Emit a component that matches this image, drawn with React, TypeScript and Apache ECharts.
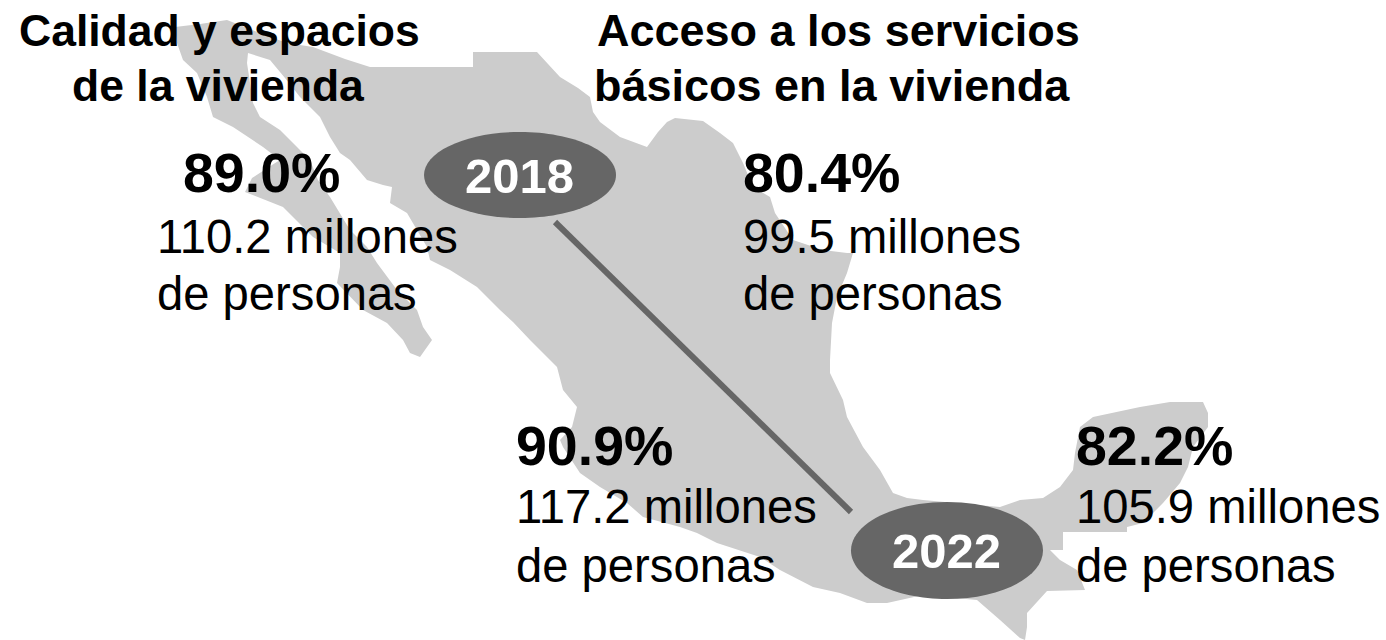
import React, { useEffect, useRef } from "react";
import * as echarts from "echarts";

const years = ["2018", "2022"];
const headings = [
  ["Calidad y espacios", "de la vivienda"],
  ["Acceso a los servicios", "básicos en la vivienda"],
];
const percentages = ["89.0%", "80.4%", "90.9%", "82.2%"];
const millions = ["110.2", "99.5", "117.2", "105.9"];
const unitLine1 = "millones";
const unitLine2 = "de personas";

// Outline of Mexico used as the backdrop illustration
const mapOutline: number[][] = [
  [175, 27], [200, 24], [227, 20], [262, 34], [287, 43], [313, 47], [345, 59], [370, 67], [473, 67], [473, 52], [537, 52],
  [548, 64], [560, 77], [578, 88], [590, 97], [593, 112], [600, 122], [620, 137], [647, 147], [658, 132], [667, 122],
  [675, 118], [703, 121], [720, 133], [733, 143], [743, 163], [753, 187], [770, 197], [775, 213], [793, 240], [823, 250],
  [847, 253], [853, 253], [847, 273], [837, 297], [832, 323], [830, 360], [830, 373], [843, 400], [847, 417], [863, 447],
  [880, 470], [893, 493], [907, 498], [923, 500], [1000, 507], [1020, 500], [1043, 498], [1060, 487], [1073, 470],
  [1075, 453], [1080, 427], [1093, 417], [1140, 407], [1170, 402], [1203, 402], [1208, 413], [1208, 427], [1193, 447],
  [1188, 467], [1180, 483], [1163, 503], [1143, 523], [1127, 527], [1127, 532], [1063, 532], [1063, 550], [1050, 550],
  [1060, 560], [1077, 570], [1085, 590], [1047, 591], [1027, 613], [1027, 627], [1025, 640], [1020, 638], [1000, 620],
  [977, 600], [923, 595], [887, 603], [867, 603], [840, 593], [813, 587], [780, 570], [760, 557], [717, 543], [697, 533],
  [680, 527], [643, 517], [627, 503], [600, 487], [580, 473], [563, 447], [560, 440], [572, 427], [577, 407], [563, 390],
  [557, 367], [530, 340], [513, 322], [500, 310], [477, 287], [450, 270], [430, 260], [427, 247], [407, 213], [390, 203],
  [392, 187], [383, 185], [367, 180], [350, 160], [340, 153], [330, 137], [320, 117], [300, 97], [285, 78], [270, 60],
  [248, 53], [247, 63], [253, 103], [260, 117], [280, 130], [297, 147], [310, 160], [318, 180], [330, 197], [350, 230],
  [367, 247], [377, 263], [397, 290], [417, 310], [423, 327], [432, 340], [420, 357], [410, 353], [403, 340], [387, 323],
  [363, 310], [337, 283], [340, 267], [340, 253], [313, 237], [283, 207], [245, 192], [252, 178], [272, 165], [280, 160],
  [263, 147], [233, 127], [213, 117], [207, 97], [197, 73], [183, 60], [177, 43],
];

export default function App() {
  const ref = useRef<HTMLDivElement>(null);

  useEffect(() => {
    document.body.style.margin = "0";
    const chart = echarts.init(ref.current!, null, { renderer: "svg" });
    const font = "'Liberation Sans', Arial, sans-serif";

    const text = (str: string, x: number, y: number, fontSize: number, bold: boolean, fill = "#000") => ({
      type: "text",
      x,
      y,
      z: 10,
      style: {
        text: str,
        fontFamily: font,
        fontSize,
        fontWeight: bold ? "bold" : "normal",
        fill,
        textAlign: "left",
        textVerticalAlign: "middle",
      },
    });

    const blocks = [
      { x: 183, sub: 157, y: [173, 236, 293] },
      { x: 743, sub: 743, y: [173, 236, 293] },
      { x: 516, sub: 516, y: [446, 506, 565] },
      { x: 1076, sub: 1076, y: [446, 506, 565] },
    ];

    const elements: any[] = [
      { type: "polygon", z: 1, shape: { points: mapOutline }, style: { fill: "#cccccc", stroke: "none" } },
      { type: "line", z: 2, shape: { x1: 555, y1: 222, x2: 851, y2: 512 }, style: { stroke: "#666666", lineWidth: 6 } },
      { type: "ellipse", z: 3, shape: { cx: 520, cy: 175, rx: 96, ry: 43 }, style: { fill: "#666666" } },
      { type: "ellipse", z: 3, shape: { cx: 947, cy: 550.5, rx: 96, ry: 48.5 }, style: { fill: "#666666" } },
      text(years[0], 465, 176, 49, true, "#fff"),
      text(years[1], 892, 551, 49, true, "#fff"),
      text(headings[0][0], 19, 30, 44.5, true),
      text(headings[0][1], 72, 85, 44.5, true),
      text(headings[1][0], 597, 30, 45, true),
      text(headings[1][1], 594, 85, 45, true),
    ];
    blocks.forEach((b, i) => {
      elements.push(text(percentages[i], b.x, b.y[0], 55.5, true));
      elements.push(text(`${millions[i]} ${unitLine1}`, b.sub, b.y[1], 47.2, false));
      elements.push(text(unitLine2, b.sub, b.y[2], 47.2, false));
    });

    chart.setOption({
      animation: false,
      backgroundColor: "#ffffff",
      graphic: { elements },
    });
    return () => chart.dispose();
  }, []);

  return <div ref={ref} style={{ position: "absolute", left: 0, top: 0, width: 1386, height: 640 }} />;
}
